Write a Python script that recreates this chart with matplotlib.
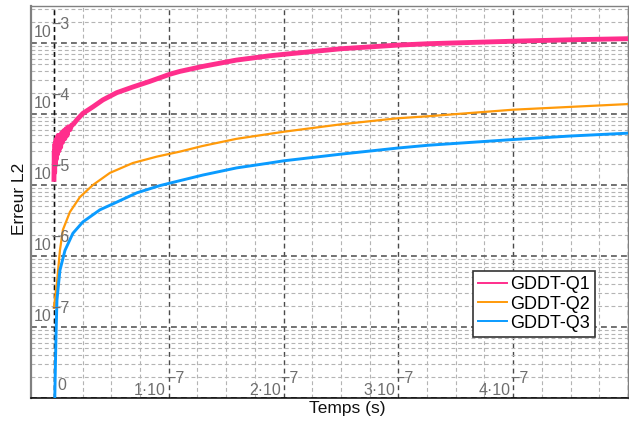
import matplotlib
matplotlib.use('Agg')
import matplotlib.pyplot as plt
from matplotlib.lines import Line2D
from matplotlib.ticker import MultipleLocator, LogLocator

plt.rcParams['font.family'] = ['Liberation Sans', 'DejaVu Sans']

# ---------------- data ----------------
series_names = ['GDDT-Q1', 'GDDT-Q2', 'GDDT-Q3']
series_colors = ['#FF2E8C', '#FF9A0A', '#0A9BFF']

t_q1 = [0.000e-7, 0.003e-7, 0.006e-7, 0.009e-7, 0.012e-7, 0.016e-7, 0.020e-7,
        0.025e-7, 0.030e-7, 0.036e-7, 0.042e-7, 0.050e-7, 0.058e-7, 0.066e-7,
        0.075e-7, 0.085e-7, 0.095e-7, 0.105e-7, 0.115e-7, 0.125e-7, 0.139e-7,
        0.155e-7, 0.170e-7, 0.200e-7, 0.252e-7, 0.339e-7, 0.426e-7, 0.548e-7,
        0.687e-7, 0.835e-7, 1.009e-7, 1.096e-7, 1.296e-7, 1.59e-7, 1.878e-7,
        2.0e-7, 2.5e-7, 2.99e-7, 3.26e-7, 4.0e-7, 4.5e-7, 5.0e-7]
err_q1 = [1.2e-5, 3.0e-5, 1.5e-5, 3.8e-5, 1.9e-5, 4.2e-5, 2.3e-5,
          4.6e-5, 2.7e-5, 5.0e-5, 3.0e-5, 5.0e-5, 3.4e-5, 5.4e-5,
          4.0e-5, 5.8e-5, 4.5e-5, 6.2e-5, 5.0e-5, 6.6e-5, 6.0e-5,
          7.0e-5, 7.2e-5, 8.3e-5, 1.02e-4, 1.26e-4, 1.58e-4, 2.0e-4,
          2.4e-4, 2.88e-4, 3.63e-4, 3.98e-4, 4.68e-4, 5.75e-4, 6.6e-4,
          6.92e-4, 8.3e-4, 9.33e-4, 9.77e-4, 1.06e-3, 1.11e-3, 1.15e-3]

t_q2 = [0.0, 0.009e-7, 0.026e-7, 0.052e-7, 0.078e-7, 0.139e-7, 0.226e-7,
        0.339e-7, 0.487e-7, 0.687e-7, 0.896e-7, 1.096e-7, 1.296e-7, 1.59e-7,
        1.878e-7, 2.0e-7, 2.5e-7, 2.99e-7, 3.26e-7, 4.0e-7, 4.5e-7, 5.0e-7]
err_q2 = [1.86e-7, 2.5e-7, 4.2e-7, 1.2e-6, 2.34e-6, 4.17e-6, 6.76e-6,
          1.0e-5, 1.48e-5, 2.04e-5, 2.51e-5, 2.95e-5, 3.55e-5, 4.47e-5,
          5.25e-5, 5.62e-5, 7.16e-5, 8.7e-5, 9.3e-5, 1.15e-4, 1.26e-4, 1.38e-4]

t_q3 = [0.0, 0.008e-7, 0.017e-7, 0.026e-7, 0.052e-7, 0.096e-7, 0.165e-7,
        0.252e-7, 0.4e-7, 0.548e-7, 0.722e-7, 0.922e-7, 1.096e-7, 1.296e-7,
        1.59e-7, 1.878e-7, 2.0e-7, 2.5e-7, 2.99e-7, 3.26e-7, 4.0e-7, 4.5e-7, 5.0e-7]
err_q3 = [1e-10, 1.2e-8, 6.6e-8, 2.4e-7, 6.3e-7, 1.2e-6, 2.09e-6,
          3.02e-6, 4.47e-6, 5.75e-6, 7.76e-6, 9.8e-6, 1.15e-5, 1.38e-5,
          1.74e-5, 2.04e-5, 2.19e-5, 2.72e-5, 3.31e-5, 3.63e-5, 4.37e-5, 4.9e-5, 5.37e-5]

x_tick_values = [0.0, 1e-7, 2e-7, 3e-7, 4e-7]
x_tick_mantissas = ['0', '1', '2', '3', '4']
x_tick_exponent = '\u22127'
y_tick_exponents = [-7, -6, -5, -4, -3]

x_label = 'Temps (s)'
y_label = 'Erreur L2'

# ---------------- figure ----------------
W, H = 629, 422
fig = plt.figure(figsize=(W / 100, H / 100), dpi=100)
ax = fig.add_axes([31 / W, 24 / H, 597 / W, 392 / H])
ax.set_yscale('log')
ax.set_xlim(-2e-8, 5e-7)
ax.set_ylim(1e-8, 3.32e-3)

ax.xaxis.set_major_locator(MultipleLocator(1e-7))
ax.xaxis.set_minor_locator(MultipleLocator(2.5e-8))
ax.yaxis.set_major_locator(LogLocator(base=10, numticks=30))
ax.yaxis.set_minor_locator(LogLocator(base=10, subs=range(2, 10), numticks=30))
ax.tick_params(which='both', length=0, labelbottom=False, labelleft=False)

dash = (0, (3.5, 2.5))
ax.grid(True, which='minor', axis='both', color='#b4b4b4', lw=0.8, ls=dash)
ax.grid(True, which='major', axis='y', color='#5a5a5a', lw=1.2, ls=dash)
ax.grid(True, which='major', axis='x', color='#4a4a4a', lw=1.0, ls=dash)
ax.axvline(0, color='#111111', lw=1.0, ls=dash, zorder=1.5)
ax.set_axisbelow(True)

for s in ['left', 'top', 'right']:
    ax.spines[s].set_color('#808080')
ax.spines['left'].set_linewidth(1.6)
ax.spines['top'].set_linewidth(1.0)
ax.spines['right'].set_linewidth(1.0)
ax.spines['bottom'].set_color('#000000')
ax.spines['bottom'].set_linewidth(1.1)

lws = [3.5, 1.6, 2.1]
for t, e, c, lw in zip([t_q1, t_q2, t_q3], [err_q1, err_q2, err_q3], series_colors, lws):
    ax.plot(t, e, color=c, lw=lw, solid_joinstyle='round', zorder=3)

label_color = '#6e6e6e'
fs_tick = 11.5
for ex in y_tick_exponents:
    yv = 10.0 ** ex
    ax.annotate('10', xy=(0, yv), xycoords='data', xytext=(-2, 6),
                textcoords='offset pixels', ha='right', va='baseline',
                fontsize=fs_tick, color=label_color, zorder=4)
    ax.annotate('\u2212' + str(abs(ex)), xy=(0, yv), xycoords='data', xytext=(-3, 14),
                textcoords='offset pixels', ha='left', va='baseline',
                fontsize=fs_tick, color=label_color, zorder=4)

ybot = ax.get_ylim()[0]
for xv, m in zip(x_tick_values, x_tick_mantissas):
    if m == '0':
        ax.annotate('0', xy=(xv, ybot), xycoords='data', xytext=(3, 8),
                    textcoords='offset pixels', ha='left', va='baseline',
                    fontsize=fs_tick, color=label_color, zorder=4)
    else:
        ax.annotate(m + '\u00b710', xy=(xv, ybot), xycoords='data', xytext=(-3, 3),
                    textcoords='offset pixels', ha='right', va='baseline',
                    fontsize=fs_tick, color=label_color, zorder=4)
        ax.annotate(x_tick_exponent, xy=(xv, ybot), xycoords='data', xytext=(-3, 15),
                    textcoords='offset pixels', ha='left', va='baseline',
                    fontsize=fs_tick, color=label_color, zorder=4)

fig.text(20 / W, 1 - 199 / H, y_label, rotation=90, ha='center', va='center',
         fontsize=12.5, color='#111111')
fig.text(347 / W, 1 - 409 / H, x_label, ha='center', va='center',
         fontsize=12.5, color='#111111')

handles = [Line2D([], [], color=c, lw=1.4) for c in series_colors]
leg = ax.legend(handles, series_names, loc='upper left',
                bbox_to_anchor=((473 - 31) / 597, (398 - 271) / 392),
                borderaxespad=0, fontsize=13, frameon=True, fancybox=False,
                framealpha=1, edgecolor='#333333', borderpad=0.3,
                labelspacing=0.12, handlelength=1.6, handletextpad=0.15)
leg.get_frame().set_linewidth(1.2)
leg.set_zorder(5)

fig.savefig('out.png', dpi=100)
